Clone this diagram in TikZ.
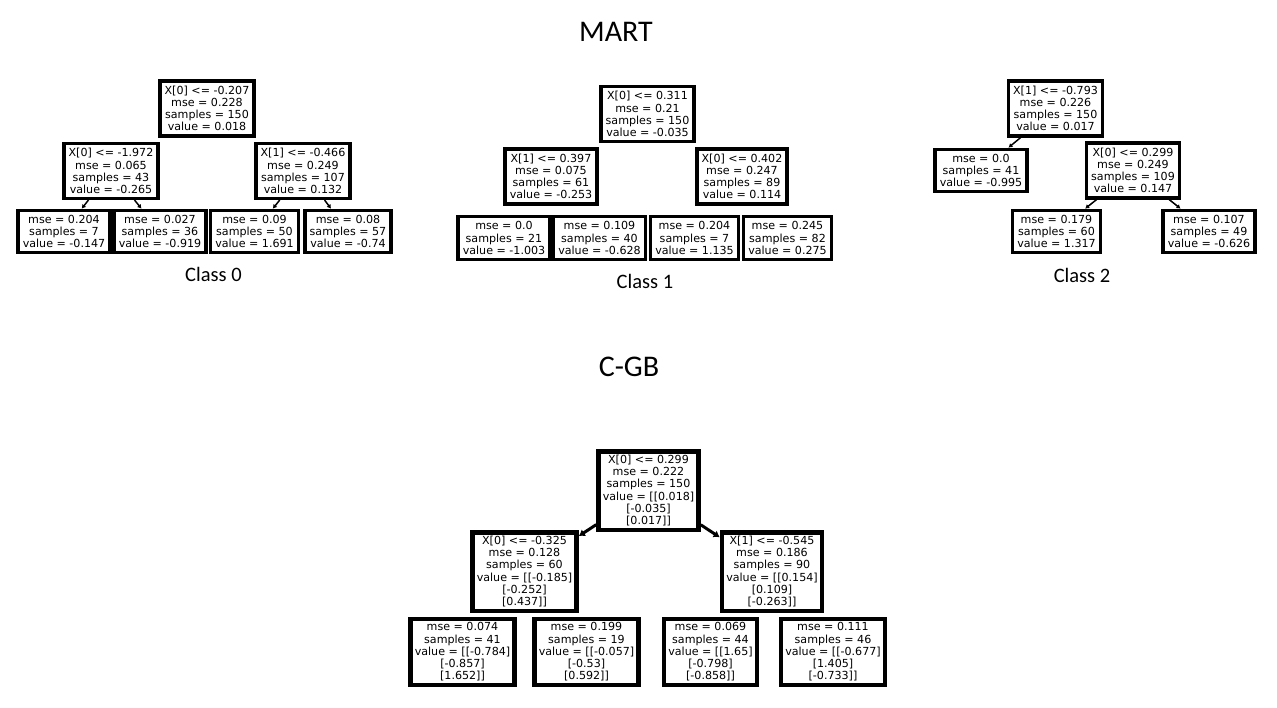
\documentclass[tikz,border=0pt]{standalone}
\usepackage{fontspec}
\newfontfamily\treefont{DejaVu Sans}
\newfontfamily\labelfont{Carlito}
\usetikzlibrary{arrows.meta,backgrounds}

\begin{document}
\begin{tikzpicture}[x=1pt,y=-1pt,
    treebox/.style={rectangle,draw,fill=white,line width=3.3pt,align=center,inner xsep=4.7pt,inner ysep=4.8pt,font=\treefont\fontsize{11.1}{12.2}\selectfont},
    gbbox/.style={treebox,line width=4.5pt,inner xsep=4.3pt,inner ysep=3.8pt},
    link/.style={-{Latex[length=4pt,width=5pt]},line width=1.5pt},
    gblink/.style={-{Latex[length=6pt,width=8pt]},line width=3pt},
    heading/.style={font=\labelfont\fontsize{30}{36}\selectfont},
    classlabel/.style={font=\labelfont\fontsize{20.5}{24}\selectfont}
    ]

    \useasboundingbox (0,0) rectangle (1277,707);

    \node[heading] (mart) at (616,32) {MART};
    \node[heading] (cgb) at (629,367) {C-GB};

    % MART, class 0
    \node[treebox] (c0root) at (207,108.5) {X[0] <= -0.207\\mse = 0.228\\samples = 150\\value = 0.018};
    \node[treebox] (c0l) at (111,171) {X[0] <= -1.972\\mse = 0.065\\samples = 43\\value = -0.265};
    \node[treebox] (c0r) at (303,171) {X[1] <= -0.466\\mse = 0.249\\samples = 107\\value = 0.132};
    \node[treebox] (c0ll) at (64,231.5) {mse = 0.204\\samples = 7\\value = -0.147};
    \node[treebox] (c0lr) at (160,231.5) {mse = 0.027\\samples = 36\\value = -0.919};
    \node[treebox] (c0rl) at (254.5,231.5) {mse = 0.09\\samples = 50\\value = 1.691};
    \node[treebox] (c0rr) at (348,231.5) {mse = 0.08\\samples = 57\\value = -0.74};
    \node[classlabel] (class0) at (213.5,274.5) {Class 0};

    % MART, class 1
    \node[treebox] (c1root) at (647.5,114) {X[0] <= 0.311\\mse = 0.21\\samples = 150\\value = -0.035};
    \node[treebox] (c1l) at (551,176.5) {X[1] <= 0.397\\mse = 0.075\\samples = 61\\value = -0.253};
    \node[treebox] (c1r) at (742,176.5) {X[0] <= 0.402\\mse = 0.247\\samples = 89\\value = 0.114};
    \node[treebox] (c1ll) at (504,238) {mse = 0.0\\samples = 21\\value = -1.003};
    \node[treebox] (c1lr) at (599.5,238) {mse = 0.109\\samples = 40\\value = -0.628};
    \node[treebox] (c1rl) at (694.5,238) {mse = 0.204\\samples = 7\\value = 1.135};
    \node[treebox] (c1rr) at (787.5,238) {mse = 0.245\\samples = 82\\value = 0.275};
    \node[classlabel] (class1) at (645,281) {Class 1};

    % MART, class 2
    \node[treebox] (c2root) at (1055.5,108.5) {X[1] <= -0.793\\mse = 0.226\\samples = 150\\value = 0.017};
    \node[treebox] (c2l) at (981,170.5) {mse = 0.0\\samples = 41\\value = -0.995};
    \node[treebox] (c2r) at (1133,170.5) {X[0] <= 0.299\\mse = 0.249\\samples = 109\\value = 0.147};
    \node[treebox] (c2rl) at (1056.5,231.5) {mse = 0.179\\samples = 60\\value = 1.317};
    \node[treebox] (c2rr) at (1209,231.5) {mse = 0.107\\samples = 49\\value = -0.626};
    \node[classlabel] (class2) at (1082,275) {Class 2};

    % C-GB
    \node[gbbox] (gbroot) at (648.5,490.5) {X[0] <= 0.299\\mse = 0.222\\samples = 150\\value = [[0.018]\\{}[-0.035]\\{}[0.017]]};
    \node[gbbox] (gbl) at (524.5,571.5) {X[0] <= -0.325\\mse = 0.128\\samples = 60\\value = [[-0.185]\\{}[-0.252]\\{}[0.437]]};
    \node[gbbox] (gbr) at (772,571.5) {X[1] <= -0.545\\mse = 0.186\\samples = 90\\value = [[0.154]\\{}[0.109]\\{}[-0.263]]};
    \node[gbbox] (gbll) at (462.5,652) {mse = 0.074\\samples = 41\\value = [[-0.784]\\{}[-0.857]\\{}[1.652]]};
    \node[gbbox] (gblr) at (586.5,652) {mse = 0.199\\samples = 19\\value = [[-0.057]\\{}[-0.53]\\{}[0.592]]};
    \node[gbbox] (gbrl) at (710.5,652) {mse = 0.069\\samples = 44\\value = [[1.65]\\{}[-0.798]\\{}[-0.858]]};
    \node[gbbox] (gbrr) at (833,652) {mse = 0.111\\samples = 46\\value = [[-0.677]\\{}[1.405]\\{}[-0.733]]};

    % only the arrow stubs that show between the boxes
    \begin{scope}[on background layer]
      \draw[link] (c0l)--(c0ll);
      \draw[link] (c0l)--(c0lr);
      \draw[link] (c0r)--(c0rl);
      \draw[link] (c0r)--(c0rr);
      \draw[link] (c2root)--(c2l);
      \draw[link] (c2r)--(c2rl);
      \draw[link] (c2r)--(c2rr);
      \draw[gblink] (gbroot)--(gbl);
      \draw[gblink] (gbroot)--(gbr);
    \end{scope}

  \end{tikzpicture}
\end{document}
